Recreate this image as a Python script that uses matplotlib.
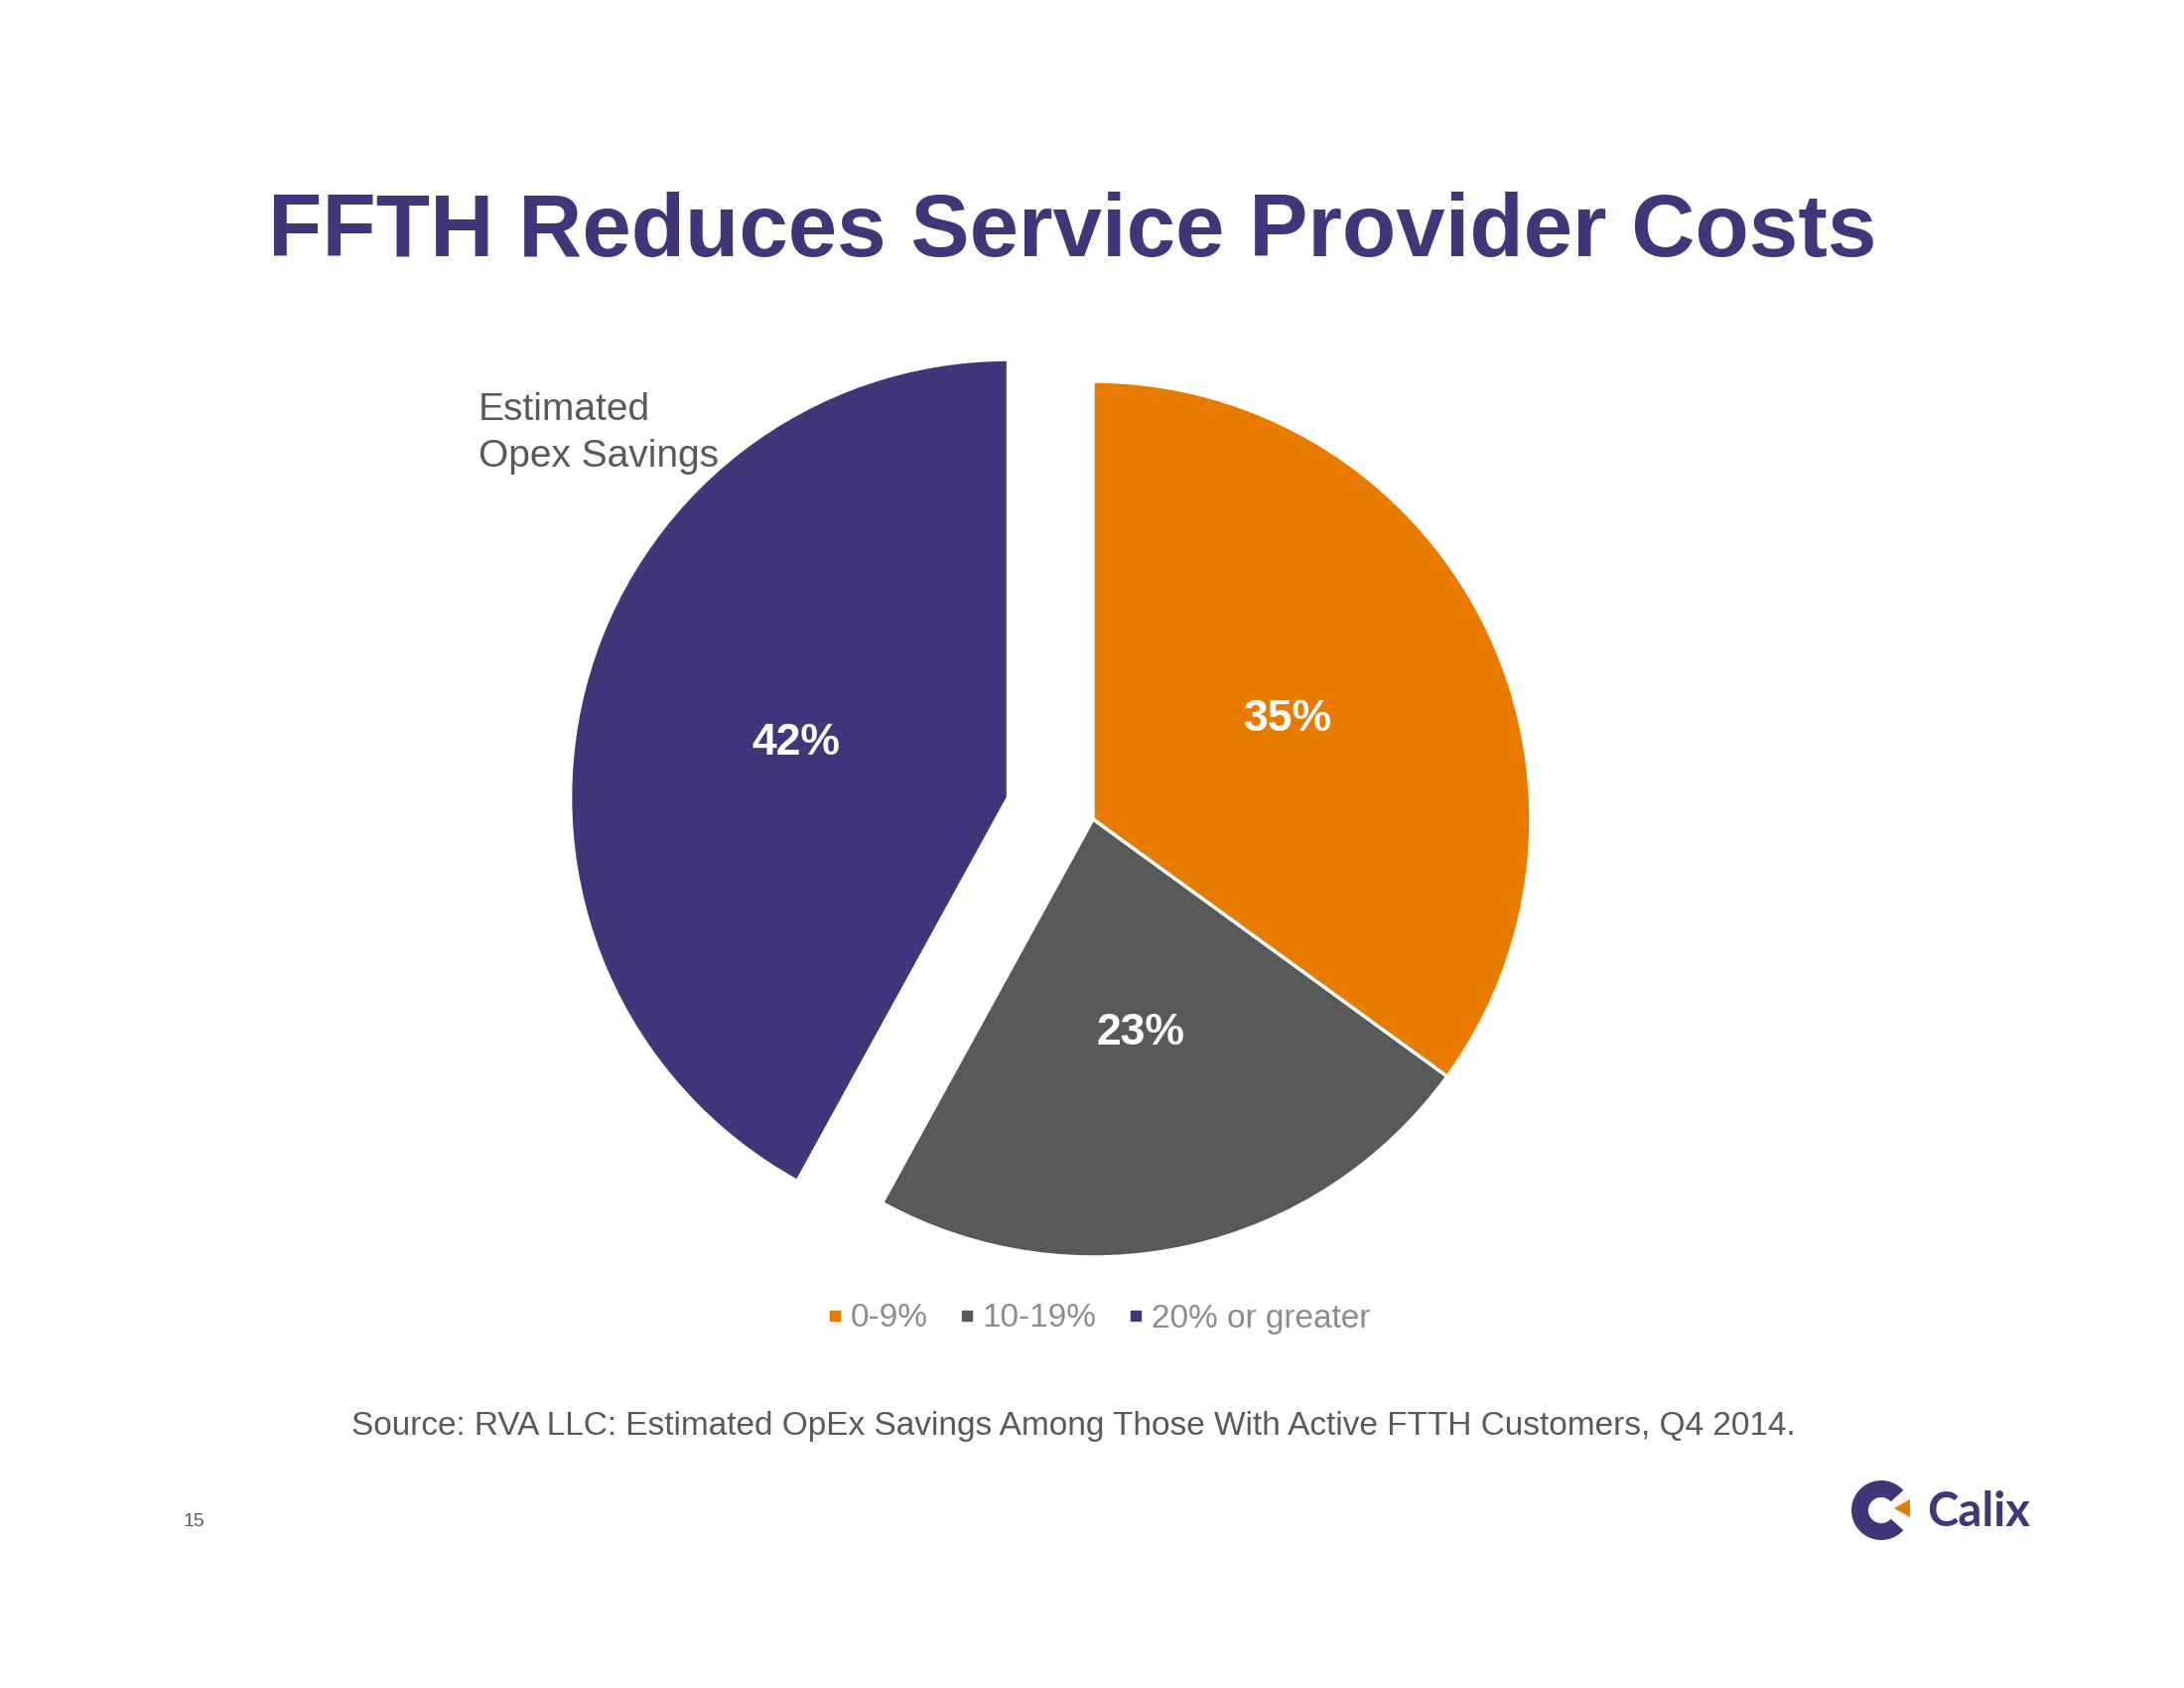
import matplotlib
matplotlib.use("Agg")
import matplotlib.pyplot as plt
from matplotlib.patches import Wedge, Polygon
from matplotlib.lines import Line2D

plt.rcParams['font.family'] = ['Liberation Sans', 'DejaVu Sans']

# ---- data ----
categories = ["0-9%", "10-19%", "20% or greater"]
shares = [35, 23, 42]
title = "FFTH Reduces Service Provider Costs"
chart_note = "Estimated\nOpex Savings"
source = "Source: RVA LLC: Estimated OpEx Savings Among Those With Active FTTH Customers, Q4 2014."
page_no = "15"

PURPLE = "#41367A"
ORANGE = "#E87A00"
GRAY = "#595959"
colors = [ORANGE, GRAY, PURPLE]
explode = [0, 0, 0.2]

W, H = 2200, 1700
fig = plt.figure(figsize=(22, 17), dpi=100)
fig.patch.set_facecolor("white")

# overlay axes in pixel coordinates
ov = fig.add_axes([0, 0, 1, 1])
ov.set_xlim(0, W)
ov.set_ylim(H, 0)
ov.axis("off")

# ---- pie ----
cx, cy, R = 1101, 825, 441
half = 600
ax = fig.add_axes([(cx - half) / W, (H - cy - half) / H, 2 * half / W, 2 * half / H])
s = half / R
wedges, texts, autotexts = ax.pie(
    shares, colors=colors, explode=explode, startangle=90, counterclock=False,
    autopct="%.0f%%", pctdistance=0.5,
    wedgeprops=dict(edgecolor="white", linewidth=2.5),
    textprops=dict(color="white", fontsize=32, fontweight="bold"))
ax.set_xlim(-s, s)
ax.set_ylim(-s, s)
ax.set_aspect("auto")
ax.axis("off")

# ---- texts ----
ov.text(1080, 258, title, ha="center", va="baseline", fontsize=64,
        fontweight="bold", color=PURPLE)
ov.text(482, 423, "Estimated", ha="left", va="baseline", fontsize=28, color=GRAY)
ov.text(482, 470, "Opex Savings", ha="left", va="baseline", fontsize=28, color=GRAY)
ov.text(1081, 1445, source, ha="center", va="baseline", fontsize=24, color=GRAY)
ov.text(195, 1537, page_no, ha="center", va="baseline", fontsize=14, color=GRAY)

# ---- legend ----
handles = [Line2D([], [], marker="s", linestyle="none", markersize=7,
                  markerfacecolor=c, markeredgecolor=c) for c in colors]
fig.legend(handles, categories, loc="center", bbox_to_anchor=(1107 / W, 1 - 1328 / H),
           ncol=3, frameon=False, fontsize=24, labelcolor="#8C8C8C",
           handlelength=0.45, handletextpad=0.25, columnspacing=0.95)

# ---- Calix logo ----
ov.add_patch(Wedge((1895, 1521), 30, 42, 318, width=17, facecolor=PURPLE, edgecolor="none"))
ov.add_patch(Polygon([(1908, 1519), (1924, 1510), (1924, 1528)], closed=True,
                     facecolor=ORANGE, edgecolor="none"))
ov.text(1941, 1537, "Calix", ha="left", va="baseline", fontsize=34,
        fontweight="bold", color=PURPLE, family=["Lato", "DejaVu Sans"])

fig.savefig("out.png", dpi=100, facecolor="white")
